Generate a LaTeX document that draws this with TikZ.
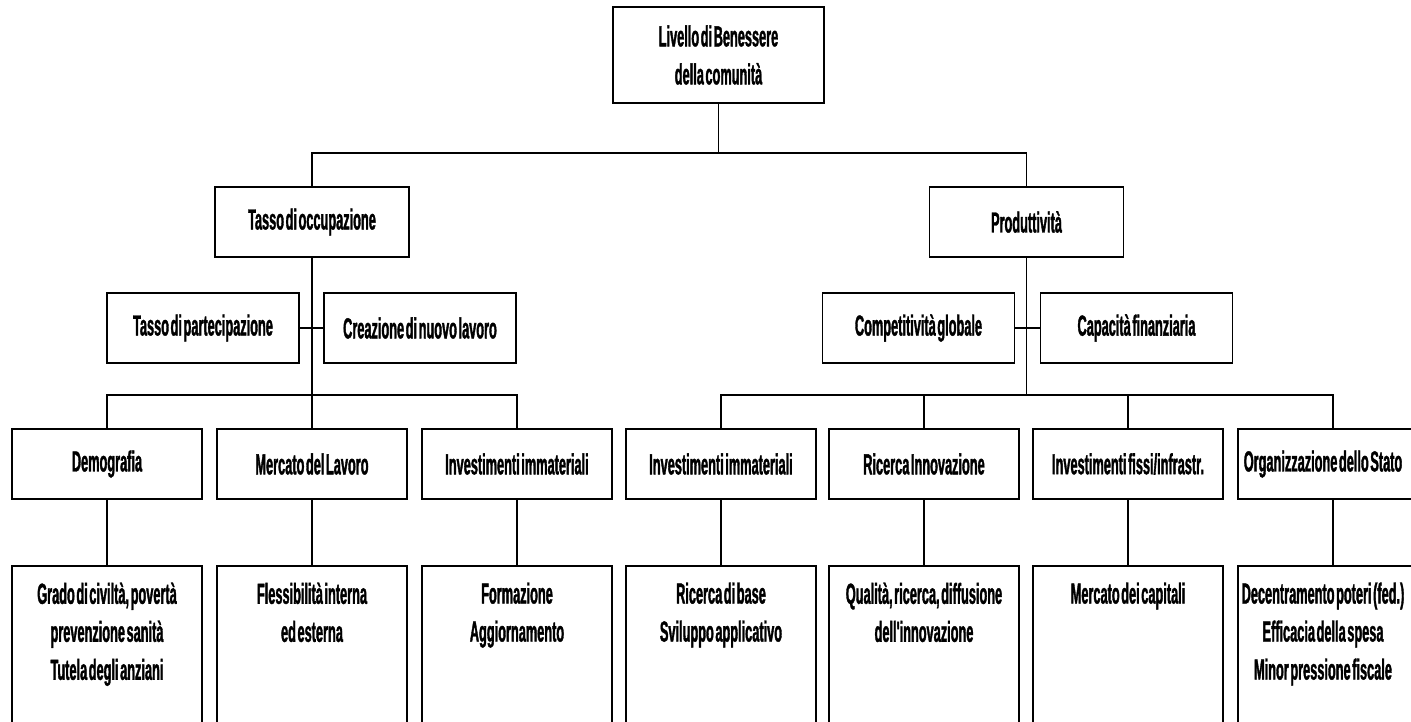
\documentclass[tikz,border=0pt]{standalone}
\usepackage{fontspec}
\newfontfamily\condfont{Liberation Sans}[FakeStretch=0.44, WordSpace=0.45, BoldFeatures={FakeBold=1.2}]
\begin{document}
\begin{tikzpicture}[x=1pt,y=-1pt,
  every node/.style={font=\condfont\bfseries\fontsize{29}{38}\selectfont, align=center},
  box/.style={draw, line width=1.6pt, inner sep=0pt},
  lvlone/.style={box, minimum width=194, minimum height=70},
  lvltwo/.style={box, minimum width=192, minimum height=70},
  lvlthree/.style={box, minimum width=190, minimum height=70},
  lvlfour/.style={box, minimum width=190, minimum height=200, anchor=north},
  inner/.style={anchor=north},
  conn/.style={line width=1.6pt}]
\useasboundingbox (0,0) rectangle (1411,721);
\clip (0,0) rectangle (1411,721);
% top
\node[box, minimum width=211, minimum height=96] (top) at (718.5,55) {Livello di Benessere\\della comunità};
% level 1
\node[lvlone] (occ) at (312,222) {Tasso di occupazione};
\node[lvlone] (prod) at (1026.5,222) {Produttività};
% level 2
\node[lvltwo] (part) at (203,328) {Tasso di partecipazione};
\node[lvltwo] (crea) at (420,328) {Creazione di nuovo lavoro};
\node[lvltwo] (comp) at (918.5,328) {Competitività globale};
\node[lvltwo] (capa) at (1136.5,328) {Capacità finanziaria};
% level 3
\node[lvlthree] (demo) at (107,464) {Demografia};
\node[lvlthree] (merc) at (312,464) {Mercato del Lavoro};
\node[lvlthree] (invA) at (517,464) {Investimenti immateriali};
\node[lvlthree] (invB) at (721,464) {Investimenti immateriali};
\node[lvlthree] (rice) at (924,464) {Ricerca Innovazione};
\node[lvlthree] (fiss) at (1128,464) {Investimenti fissi/infrastr.};
\node[lvlthree] (orga) at (1333,464) {};
\node (orgt) at (1323,464) {Organizzazione dello Stato};
% level 4
\node[lvlfour] (bA) at (107,565) {};
\node[lvlfour] (bB) at (312,565) {};
\node[lvlfour] (bC) at (517,565) {};
\node[lvlfour] (bD) at (721,565) {};
\node[lvlfour] (bE) at (924,565) {};
\node[lvlfour] (bF) at (1128,565) {};
\node[lvlfour] (bG) at (1333,565) {};
\node[inner] (tA) at ([yshift=-14]bA.north) {Grado di civiltà, povertà\\prevenzione sanità\\Tutela degli anziani};
\node[inner] (tB) at ([yshift=-14]bB.north) {Flessibilità interna\\ed esterna};
\node[inner] (tC) at ([yshift=-14]bC.north) {Formazione\\Aggiornamento};
\node[inner] (tD) at ([yshift=-14]bD.north) {Ricerca di base\\Sviluppo applicativo};
\node[inner] (tE) at ([yshift=-14]bE.north) {Qualità, ricerca, diffusione\\dell'innovazione};
\node[inner] (tF) at ([yshift=-14]bF.north) {Mercato dei capitali};
\node[inner] (tG) at ([xshift=-10,yshift=-14]bG.north) {Decentramento poteri (fed.)\\Efficacia della spesa\\Minor pressione fiscale};
% connectors
\coordinate (j0) at (718.5,153);
\coordinate (jL) at (312,395);
\coordinate (jR) at (1026.5,395);
\draw[conn] (top.south) -- (j0);
\draw[conn] (occ.north) |- (j0) -| (prod.north);
\draw[conn] (part.east) -- (crea.west);
\draw[conn] (comp.east) -- (capa.west);
\draw[conn] (occ.south) -- (merc.north);
\draw[conn] (demo.north) |- (jL) -| (invA.north);
\draw[conn] (prod.south) -- (jR);
\draw[conn] (invB.north) |- (jR) -| (orga.north);
\draw[conn] (rice.north) -- (rice.north |- jR);
\draw[conn] (fiss.north) -- (fiss.north |- jR);
\draw[conn] (demo.south) -- (bA.north);
\draw[conn] (merc.south) -- (bB.north);
\draw[conn] (invA.south) -- (bC.north);
\draw[conn] (invB.south) -- (bD.north);
\draw[conn] (rice.south) -- (bE.north);
\draw[conn] (fiss.south) -- (bF.north);
\draw[conn] (orga.south) -- (bG.north);
\end{tikzpicture}
\end{document}
